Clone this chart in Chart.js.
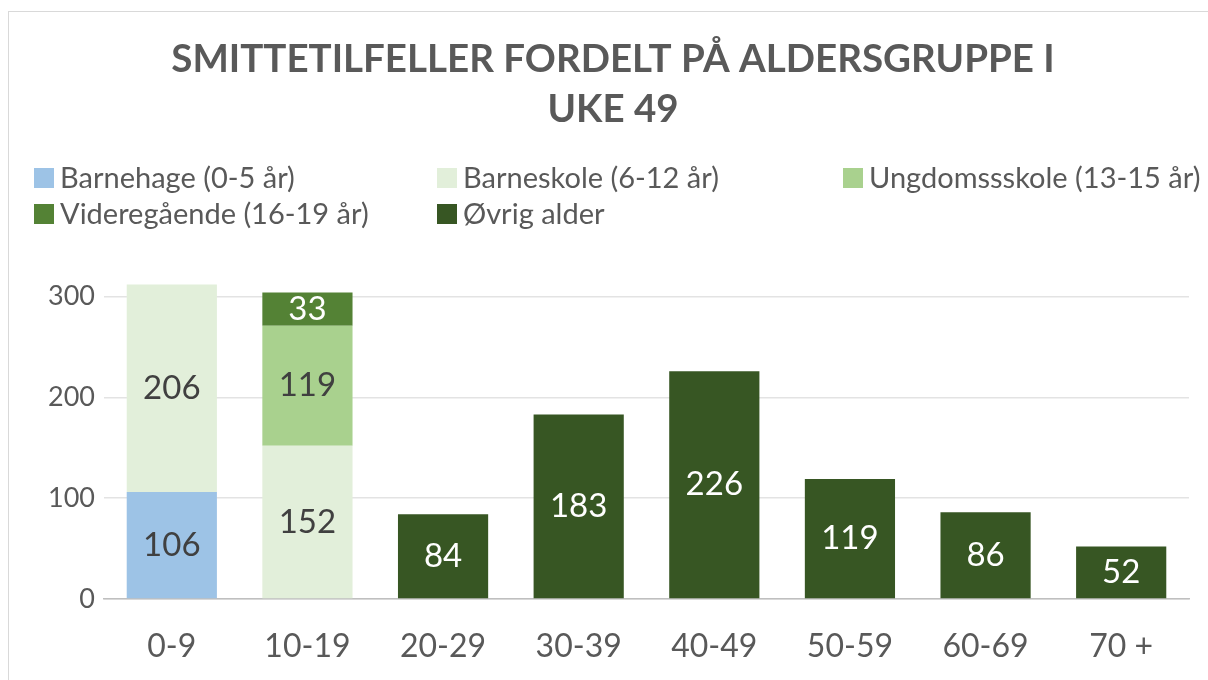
<!DOCTYPE html>
<html>
<head>
<meta charset="utf-8">
<script src="https://cdn.jsdelivr.net/npm/chart.js@4.4.1/dist/chart.umd.min.js"></script>
<style>
  html, body { margin: 0; padding: 0; background: #ffffff; overflow: hidden; }
  #frame { position: absolute; left: 8px; top: 11px; width: 1400px; height: 900px; border: 1.5px solid #d9d9d9; box-sizing: border-box; }
  #wrap { position: absolute; left: 0; top: 0; width: 1208px; height: 680px; }
</style>
</head>
<body>
<div id="frame"></div>
<div id="wrap"><canvas id="c" width="1208" height="680"></canvas></div>
<script>
const categories = ["0-9", "10-19", "20-29", "30-39", "40-49", "50-59", "60-69", "70 +"];
const barnehage    = [106, null, null, null, null, null, null, null];
const barneskole   = [206, 152, null, null, null, null, null, null];
const ungdomsskole = [null, 119, null, null, null, null, null, null];
const videregaende = [null, 33, null, null, null, null, null, null];
const ovrig        = [null, null, 84, 183, 226, 119, 86, 52];
const seriesNames  = ["Barnehage (0-5 år)", "Barneskole (6-12 år)", "Ungdomssskole (13-15 år)", "Videregående (16-19 år)", "Øvrig alder"];
const yTicks = [0, 100, 200, 300];
const titleLines = ["SMITTETILFELLER FORDELT PÅ ALDERSGRUPPE I", "UKE 49"];

const FONT = "Lato, 'Open Sans', sans-serif";
const colors = ["#9dc3e6", "#e2efda", "#a9d18e", "#548235", "#375623"];
const labelColors = ["#404040", "#404040", "#404040", "#ffffff", "#ffffff"];
const seriesData = [barnehage, barneskole, ungdomsskole, videregaende, ovrig];

const valueLabels = {
  id: 'valueLabels',
  afterDatasetsDraw(chart) {
    const ctx = chart.ctx;
    ctx.save();
    ctx.font = "33px " + FONT;
    ctx.textAlign = 'center';
    ctx.textBaseline = 'middle';
    chart.data.datasets.forEach((ds, i) => {
      const meta = chart.getDatasetMeta(i);
      meta.data.forEach((bar, j) => {
        const v = ds.data[j];
        if (v === null || v === undefined) return;
        ctx.fillStyle = labelColors[i];
        ctx.fillText(String(v), bar.x, (bar.y + bar.base) / 2);
      });
    });
    ctx.restore();
  }
};

const gridLegend = {
  id: 'gridLegend',
  afterDraw(chart) {
    const ctx = chart.ctx;
    ctx.save();
    ctx.font = "29px " + FONT;
    ctx.textBaseline = 'middle';
    ctx.textAlign = 'left';
    const cols = [34, 437, 843];
    const rows = [178, 214];
    chart.data.datasets.forEach((ds, i) => {
      const x = cols[i % 3];
      const y = rows[Math.floor(i / 3)];
      ctx.fillStyle = ds.backgroundColor;
      ctx.fillRect(x, y - 10, 20, 20);
      ctx.fillStyle = "#595959";
      ctx.fillText(ds.label, x + 26, y + 1);
    });
    ctx.restore();
  }
};

new Chart(document.getElementById('c'), {
  type: 'bar',
  data: {
    labels: categories,
    datasets: seriesData.map((d, i) => ({
      label: seriesNames[i],
      data: d,
      backgroundColor: colors[i],
      borderWidth: 0,
      barPercentage: 0.665,
      categoryPercentage: 1.0
    }))
  },
  options: {
    responsive: false,
    animation: false,
    devicePixelRatio: 1,
    layout: { padding: { left: 37, right: 19, top: 0, bottom: 0 } },
    plugins: {
      legend: { display: false },
      tooltip: { enabled: false },
      title: {
        display: true,
        text: titleLines,
        color: "#595959",
        font: { family: FONT, size: 38.5, weight: 'bold', lineHeight: 1.3 },
        padding: { top: 35, bottom: 111 }
      }
    },
    scales: {
      x: {
        stacked: true,
        grid: { display: false, drawTicks: false },
        border: { display: true, color: "#bfbfbf", width: 1.5 },
        ticks: { color: "#595959", font: { family: FONT, size: 32 }, padding: 28 },
        afterFit(scale) { scale.height = 81; }
      },
      y: {
        stacked: true,
        min: 0,
        max: 350,
        grid: { color: "#e3e3e3", lineWidth: 1.5, drawTicks: false },
        border: { display: false },
        ticks: { color: "#595959", font: { family: FONT, size: 27 }, padding: 9, stepSize: 100 },
        afterBuildTicks(scale) { scale.ticks = yTicks.map(v => ({ value: v })); },
        afterFit(scale) { scale.width = 67; }
      }
    }
  },
  plugins: [valueLabels, gridLegend]
});
</script>
</body>
</html>
